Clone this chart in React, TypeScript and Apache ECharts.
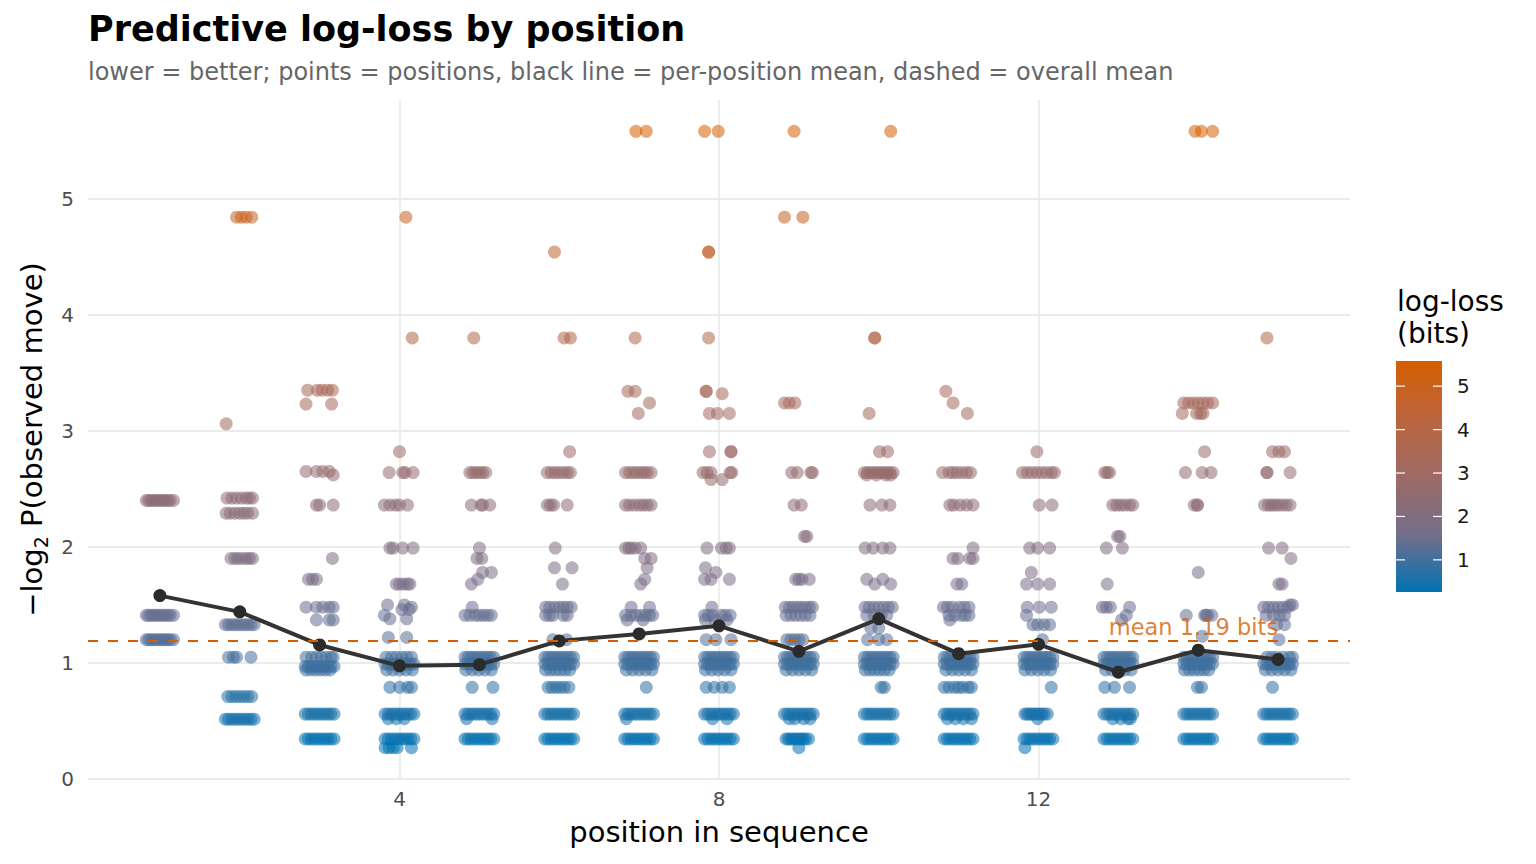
import React, { useEffect, useRef } from "react";
import * as echarts from "echarts";

const positions = [1, 2, 3, 4, 5, 6, 7, 8, 9, 10, 11, 12, 13, 14, 15];
const meanLoss = [1.58, 1.44, 1.155, 0.975, 0.985, 1.19, 1.25, 1.32, 1.1, 1.38, 1.08, 1.16, 0.92, 1.11, 1.03];
const overallMean = 1.19;
const xTicks = [4, 8, 12];
const yTicks = [0, 1, 2, 3, 4, 5];
const legendTicks = [1, 2, 3, 4, 5];
const colorMin = 0.26;
const colorMax = 5.58;
const rampColors = ["#0072B2", "#756E8C", "#9E6A65", "#BB653E", "#D55E00"];

// jitter offsets (hundredths of a position) for a full row of overlapping points
const D = [-18, -14, -10, -6, -2, 2, 6, 10, 14, 18];

// each row: [loss value, ...horizontal jitter offsets]
const pos1 = [
  [2.4, -17, -14, -11, -8, -5, -2, 1, 4, 7, 10, 13, 17],
  [1.41, -17, -14, -11, -8, -5, -2, 1, 4, 7, 10, 13, 17],
  [1.2, -17, -14, -11, -8, -5, -2, 1, 4, 7, 10, 13, 17],
];
const pos2 = [
  [4.84, -4, 2, 8, 15],
  [3.06, -17],
  [2.42, -16, -10, -4, 2, 8, 12, 16],
  [2.29, -17, -12, -6, 0, 5, 10, 16],
  [1.9, -11, -6, -2, 3, 8, 12, 16],
  [1.33, ...D],
  [1.05, -14, -8, -4, 14],
  [0.71, -15, -10, -5, 0, 5, 10, 15],
  [0.515, ...D],
];
const pos3 = [
  [3.35, -15, -3, 3, 10, 16],
  [3.23, -17, 15],
  [2.65, -17, -4, 4, 12],
  [2.62, 17],
  [2.36, -4, 0, 17],
  [1.9, 16],
  [1.72, -14, -9, -4],
  [1.48, -17, -4, 4, 12, 17],
  [1.37, -4, 12, 17],
  [1.05, -17, -10, -4, 2, 8, 14, 17],
  [0.97, ...D],
  [0.94, -17, -11, -5, 1, 7, 13],
  [0.56, ...D],
  [0.345, ...D],
];
const pos4 = [
  [4.84, 8],
  [3.8, 16],
  [2.82, 0],
  [2.64, -13, 4, 7, 17],
  [2.36, -19, -12, -5, 0, 10],
  [1.99, -12, -8, 4, 17],
  [1.68, -4, 0, 5, 10, 13],
  [1.5, -15, 6],
  [1.48, 15],
  [1.46, 3, 12],
  [1.41, -19],
  [1.38, -12, 9],
  [1.22, -14, 9],
  [1.05, -17, -10, -4, 3, 9, 15],
  [0.99, ...D],
  [0.94, -16, -8, 0, 8, 16],
  [0.79, -12, 0, 10, 15],
  [0.56, ...D],
  [0.52, -14, -4, 6],
  [0.345, ...D],
  [0.27, -18, -13, -8, -3, 15],
];
const pos5 = [
  [3.8, -7],
  [2.64, -12, -8, -4, 0, 4, 8],
  [2.36, -10, 2, 4, 13],
  [1.99, 0],
  [1.9, -3, 3],
  [1.78, 4, 15],
  [1.72, -2],
  [1.68, -10],
  [1.48, -9],
  [1.41, -18, -12, -5, 0, 5, 10, 15],
  [1.05, ...D],
  [0.99, ...D],
  [0.94, -17, -9, -1, 7, 15],
  [0.79, -9, 17],
  [0.56, ...D],
  [0.52, -16, 16],
  [0.345, ...D],
];
const pos6 = [
  [4.54, -6],
  [3.8, 6, 14],
  [2.82, 13],
  [2.64, -15, -10, -5, 0, 5, 10, 14],
  [2.36, -15, -11, -7, 10],
  [1.99, -5],
  [1.82, -6, 16],
  [1.68, 4],
  [1.48, -17, -12, -6, 0, 5, 10, 15],
  [1.41, -17, -12, -8, 5, 10],
  [1.2, -8, 9],
  [1.05, ...D],
  [0.99, ...D],
  [0.94, -17, -11, -5, 1, 7, 13],
  [0.79, -14, -9, -4, 1, 6, 12],
  [0.56, ...D],
  [0.345, ...D],
];
const pos7 = [
  [5.58, -4, 9],
  [3.8, -5],
  [3.34, -14, -5],
  [3.24, 13],
  [3.15, -1],
  [2.64, -17, -12, -7, -3, 2, 6, 10, 15],
  [2.36, -17, -12, -6, 0, 5, 10, 15],
  [1.99, -17, -13, -10, -5, 2],
  [1.9, 7, 15],
  [1.82, 10],
  [1.72, 7],
  [1.68, 2],
  [1.48, -10, 13],
  [1.41, -17, -10, -4, 2, 8, 13, 17],
  [1.37, -15, 5],
  [1.05, ...D],
  [0.99, ...D],
  [0.94, -16, -8, 0, 8, 16],
  [0.79, 9],
  [0.56, ...D],
  [0.52, -16],
  [0.345, ...D],
];
const pos8 = [
  [5.58, -18, -1],
  [4.54, -13, -13],
  [3.8, -13],
  [3.34, -16, -16],
  [3.32, 4],
  [3.15, -12, -2, 13],
  [2.82, -12, 15, 15],
  [2.64, -20, -15, -10, 14, 16],
  [2.58, -10, 4],
  [1.99, -15, 3, 9, 13],
  [1.82, -17],
  [1.78, -4],
  [1.72, -18, -10, 13],
  [1.48, -9],
  [1.41, -18, -13, -8, 3, 8, 14],
  [1.37, -17, -5, 10],
  [1.2, -16, -4, 15],
  [1.05, ...D],
  [0.99, ...D],
  [0.94, -17, -9, -1, 7, 15],
  [0.79, -16, -6, 4, 13],
  [0.56, ...D],
  [0.52, -8, 10],
  [0.345, ...D],
];
const pos9 = [
  [5.58, -6],
  [4.84, -18, 5],
  [3.24, -18, -12, -5],
  [2.64, -9, -2, 15, 17],
  [2.36, -6, 3],
  [2.09, 7, 10],
  [1.72, -4, 0, 4, 13],
  [1.48, -17, -12, -7, -2, 3, 8, 13, 17],
  [1.41, -16, -10, -4, 2, 8, 14],
  [1.2, -15, -10, -5, 0, 5],
  [1.05, ...D],
  [0.99, ...D],
  [0.94, -16, -8, 0, 8, 16],
  [0.56, ...D],
  [0.52, -12, -5, 6, 14],
  [0.345, -16, -13, -10, -7, -4, -1, 2, 5, 8, 12],
  [0.27, 0],
];
const pos10 = [
  [5.58, 15],
  [3.8, -5, -5],
  [3.15, -12],
  [2.82, 1, 11],
  [2.64, ...D],
  [2.62, -15, -3, 9, 15],
  [2.36, -11, 4, 14],
  [1.99, -17, -7, 5, 14],
  [1.72, -15, 5],
  [1.68, -5, 15],
  [1.48, -17, -12, -6, 0, 6, 12, 17],
  [1.41, -15, -6, 3, 10],
  [1.3, -10, 0],
  [1.2, -14, 0, 10],
  [1.05, ...D],
  [0.99, ...D],
  [0.94, -17, -11, -5, 1, 7, 13],
  [0.79, 3, 7],
  [0.56, ...D],
  [0.345, ...D],
];
const pos11 = [
  [3.34, -16],
  [3.24, -7],
  [3.15, 11],
  [2.64, -20, -12, -7, -2, 4, 10, 15],
  [2.36, -11, -6, 2, 10, 18],
  [1.99, 18],
  [1.9, -7, -1, 14, 18],
  [1.68, -2, 4],
  [1.48, -19, -14, -8, 1, 7, 13],
  [1.41, -12, -5, 3, 8, 13],
  [1.37, -11],
  [1.05, ...D],
  [0.99, ...D],
  [0.94, -16, -8, 0, 8, 16],
  [0.79, -18, -12, -5, 0, 5, 12, 16],
  [0.56, ...D],
  [0.52, -14, -4, 6, 16],
  [0.345, ...D],
];
const pos12 = [
  [2.82, -2],
  [2.64, -20, -14, -8, -2, 4, 10, 16, 20],
  [2.36, 1, 17],
  [1.99, -11, -1, 14],
  [1.78, -9],
  [1.68, -15, -1, 14],
  [1.48, -14, 1, 16],
  [1.41, -15],
  [1.33, -7, -1, 7, 14],
  [1.2, 5],
  [1.05, ...D],
  [0.99, ...D],
  [0.94, -17, -9, -1, 7, 15],
  [0.79, 16],
  [0.56, -17, -14, -11, -8, -5, -2, 1, 4, 7, 11],
  [0.52, -1],
  [0.345, ...D],
  [0.27, -17],
];
const pos13 = [
  [2.64, -17, -14, -11],
  [2.36, -7, -2, 3, 8, 14, 18],
  [2.09, -1, 2],
  [1.99, -15, 5],
  [1.68, -14],
  [1.48, -20, -15, -10, 14],
  [1.41, 10],
  [1.37, 4],
  [1.05, ...D],
  [0.99, ...D],
  [0.94, -16, -8, 0, 8, 16],
  [0.79, -17, -5, 14],
  [0.56, ...D],
  [0.52, -7, 3, 12, 15],
  [0.345, ...D],
];
const pos14 = [
  [5.58, -4, 4, 18],
  [3.24, -18, -12, -6, 0, 6, 12, 18],
  [3.15, -20, -2, 3, 6],
  [2.82, 8],
  [2.64, -16, 5, 16],
  [2.36, -5, -1, -1],
  [1.78, 0],
  [1.41, -15, 8, 10, 12, 17],
  [1.23, 5],
  [1.05, ...D],
  [0.99, ...D],
  [0.94, -17, -11, -5, 1, 7, 13],
  [0.79, -1, 4],
  [0.56, ...D],
  [0.345, ...D],
];
const pos15 = [
  [3.8, -14],
  [2.82, -7, 1, 8],
  [2.64, -14, -14, 15],
  [2.36, -17, -12, -8, -4, 0, 5, 10, 15],
  [1.99, -12, 5],
  [1.9, 16],
  [1.68, 1, 5],
  [1.5, 15, 18],
  [1.48, -18, -12, -6, 0, 6, 12],
  [1.41, -15, -6, 2, 8],
  [1.33, -2, 8],
  [1.2, 1],
  [1.05, -14, -8, -2, 6, 14, 18],
  [0.99, ...D],
  [0.94, -16, -8, 0, 8, 16],
  [0.79, -7],
  [0.56, ...D],
  [0.345, ...D],
];
const jitterRows = [pos1, pos2, pos3, pos4, pos5, pos6, pos7, pos8, pos9, pos10, pos11, pos12, pos13, pos14, pos15];

const FONT = "DejaVu Sans";

export default function App() {
  const ref = useRef<HTMLDivElement>(null);

  useEffect(() => {
    document.body.style.margin = "0";
    if (!ref.current) return;
    const chart = echarts.init(ref.current, undefined, { renderer: "svg" });

    const points: number[][] = [];
    jitterRows.forEach((rows, i) => {
      rows.forEach((row) => {
        const [y, ...dxs] = row;
        dxs.forEach((dx) => points.push([positions[i] + dx / 100, y]));
      });
    });

    // colour bar geometry (legend)
    const barX = 1396;
    const barY = 361;
    const barW = 46;
    const barH = 231;
    const valToBarY = (v: number) => barY + barH * (1 - (v - colorMin) / (colorMax - colorMin));
    const legendEls: any[] = [
      {
        type: "text",
        left: 1397,
        top: 285,
        style: { text: "log-loss\n(bits)", font: `28px ${FONT}`, fill: "#000", lineHeight: 32 },
      },
      {
        type: "rect",
        shape: { x: barX, y: barY, width: barW, height: barH },
        style: {
          fill: new echarts.graphic.LinearGradient(
            0,
            1,
            0,
            0,
            rampColors.map((c, i) => ({ offset: i / (rampColors.length - 1), color: c }))
          ),
        },
      },
    ];
    legendTicks.forEach((v) => {
      const y = valToBarY(v);
      legendEls.push({
        type: "line",
        shape: { x1: barX, y1: y, x2: barX + 9, y2: y },
        style: { stroke: "#fff", lineWidth: 1.2 },
      });
      legendEls.push({
        type: "line",
        shape: { x1: barX + barW - 9, y1: y, x2: barX + barW, y2: y },
        style: { stroke: "#fff", lineWidth: 1.2 },
      });
      legendEls.push({
        type: "text",
        x: 1457,
        y,
        style: { text: String(v), font: `20px ${FONT}`, fill: "#1a1a1a", verticalAlign: "middle" },
      });
    });

    chart.setOption({
      animation: false,
      backgroundColor: "#ffffff",
      textStyle: { fontFamily: FONT },
      title: [
        {
          text: "Predictive log-loss by position",
          left: 88,
          top: 11,
          padding: 0,
          textStyle: { fontFamily: FONT, fontSize: 35, fontWeight: "bold", color: "#000" },
        },
        {
          text: "lower = better; points = positions, black line = per-position mean, dashed = overall mean",
          left: 88,
          top: 60,
          padding: 0,
          textStyle: { fontFamily: FONT, fontSize: 24, fontWeight: "normal", color: "#666666" },
        },
      ],
      grid: { left: 88, right: 186, top: 100, bottom: 85, containLabel: false },
      xAxis: {
        type: "value",
        min: 0.1,
        max: 15.9,
        name: "position in sequence",
        nameLocation: "middle",
        nameGap: 38,
        nameTextStyle: { fontFamily: FONT, fontSize: 29, color: "#000" },
        axisLine: { show: false },
        axisTick: { show: false, customValues: xTicks },
        axisLabel: { customValues: xTicks, fontSize: 20, color: "#4d4d4d", margin: 10, fontFamily: FONT },
        splitLine: { show: true, lineStyle: { color: "#ebebeb", width: 1.8 } },
      },
      yAxis: {
        type: "value",
        min: 0,
        max: 5.85,
        name: "{a|−log}{s|2}{a| P(observed move)}",
        nameLocation: "middle",
        nameGap: 36,
        nameRotate: 90,
        nameTextStyle: {
          fontFamily: FONT,
          color: "#000",
          rich: {
            a: { fontSize: 29, fontFamily: FONT, color: "#000", lineHeight: 36 },
            s: { fontSize: 19, fontFamily: FONT, color: "#000", lineHeight: 19, verticalAlign: "bottom" },
          },
        },
        axisLine: { show: false },
        axisTick: { show: false, customValues: yTicks },
        axisLabel: { customValues: yTicks, fontSize: 20, color: "#4d4d4d", margin: 14, fontFamily: FONT },
        splitLine: { show: true, lineStyle: { color: "#ebebeb", width: 1.8 } },
      },
      visualMap: {
        type: "continuous",
        show: false,
        seriesIndex: 0,
        dimension: 1,
        min: colorMin,
        max: colorMax,
        inRange: { color: rampColors },
      },
      series: [
        {
          type: "scatter",
          data: points,
          symbol: "circle",
          symbolSize: 13,
          itemStyle: { opacity: 0.55 },
          z: 2,
          silent: true,
        },
        {
          type: "scatter",
          data: [],
          z: 3,
          markLine: {
            silent: true,
            symbol: "none",
            label: { show: false },
            lineStyle: { color: "#D55E00", width: 2.2, type: [10, 10] },
            data: [{ yAxis: overallMean }],
          },
        },
        {
          type: "line",
          data: positions.map((p, i) => [p, meanLoss[i]]),
          symbol: "circle",
          symbolSize: 13,
          lineStyle: { color: "#333333", width: 4 },
          itemStyle: { color: "#2b2b2b" },
          z: 4,
          silent: true,
        },
        {
          type: "scatter",
          data: [[positions[positions.length - 1], overallMean]],
          symbolSize: 0,
          z: 5,
          silent: true,
          label: {
            show: true,
            position: "top",
            align: "right",
            distance: 2,
            formatter: `mean ${overallMean.toFixed(2)} bits`,
            fontFamily: FONT,
            fontSize: 22.5,
            color: "#D55E00",
          },
        },
      ],
      graphic: legendEls,
    });

    return () => chart.dispose();
  }, []);

  return <div ref={ref} style={{ width: 1536, height: 864 }} />;
}
